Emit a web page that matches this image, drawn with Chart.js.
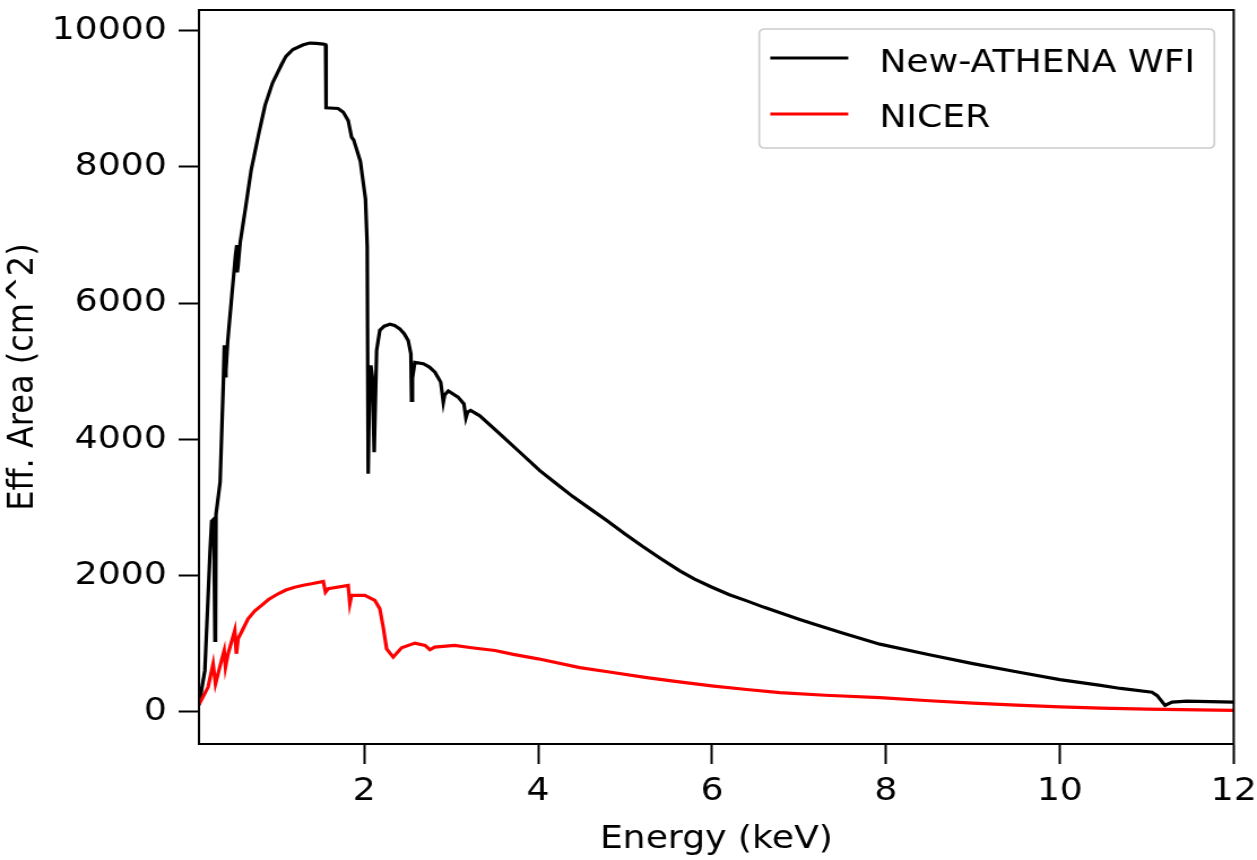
<!DOCTYPE html>
<html><head><meta charset="utf-8">
<script src="https://cdn.jsdelivr.net/npm/chart.js@4"></script>
<style>
html,body{margin:0;padding:0;background:#fff;overflow:hidden}
#wrap{width:1112px;height:860px;transform:scaleX(1.1304);transform-origin:0 0;}
canvas{display:block}
</style></head><body>
<div id="wrap"><canvas id="c" width="1112" height="860"></canvas></div>
<script>
const seriesLabels = ['New-ATHENA WFI', 'NICER'];
const seriesColors = ['#000000', '#ff0000'];

const wfiEnergy = [0.10,0.168,0.227,0.246,0.270,0.280,0.284,0.290,0.296,0.343,0.382,0.392,0.400,0.410,0.430,0.480,0.520,0.535,0.540,0.550,0.575,0.635,0.70,0.79,0.86,0.946,1.05,1.10,1.18,1.30,1.375,1.45,1.53,1.556,1.562,1.70,1.76,1.816,1.855,1.88,1.956,2.015,2.035,2.046,2.062,2.077,2.095,2.115,2.143,2.18,2.23,2.296,2.35,2.41,2.46,2.506,2.537,2.545,2.555,2.583,2.68,2.75,2.814,2.88,2.91,2.925,2.967,3.08,3.147,3.17,3.19,3.224,3.33,3.56,3.8,4.02,4.2,4.4,4.6,4.79,5.0,5.2,5.4,5.63,5.8,6.0,6.2,6.40,6.6,7.0,7.17,7.5,7.93,8.5,9.0,9.5,10.0,10.47,10.7,11.06,11.12,11.21,11.29,11.46,12.0];
const wfiArea = [100,610,2340,2800,2830,2830,1050,1100,2900,3370,4890,5380,4930,5000,5430,6140,6700,6850,6450,6550,6900,7390,7950,8500,8900,9230,9500,9620,9720,9790,9815,9810,9800,9790,8865,8855,8800,8680,8435,8390,8080,7525,6830,3495,4800,5085,4900,3810,5305,5600,5660,5690,5670,5620,5550,5450,5255,4570,4900,5130,5110,5060,4985,4840,4545,4650,4710,4620,4520,4315,4400,4425,4345,4080,3800,3540,3360,3160,2980,2810,2610,2430,2260,2070,1950,1830,1720,1630,1535,1360,1290,1160,995,840,710,590,475,390,345,290,240,95,145,160,145];

const nicerEnergy = [0.10,0.205,0.263,0.29,0.359,0.39,0.405,0.435,0.512,0.53,0.55,0.665,0.74,0.82,0.9,1.01,1.1,1.20,1.3,1.395,1.53,1.555,1.586,1.816,1.835,1.855,2.008,2.123,2.18,2.219,2.258,2.334,2.43,2.583,2.70,2.756,2.81,3.04,3.236,3.504,3.715,4.0,4.48,4.8,5.25,5.6,6.02,6.4,6.78,7.3,7.93,8.5,9.0,9.5,10.0,10.47,11.0,12.0];
const nicerArea = [110,365,707,413,755,900,657,854,1196,854,1074,1367,1480,1563,1650,1734,1790,1831,1860,1881,1915,1758,1808,1856,1588,1710,1710,1636,1514,1244,927,804,942,1010,976,913,951,976,942,902,845,780,650,590,505,445,380,330,285,245,210,165,130,100,75,56,42,22];

const xTickValues = [2, 4, 6, 8, 10, 12];
const yTickValues = [0, 2000, 4000, 6000, 8000, 10000];
const xTitle = 'Energy (keV)';
const yTitle = 'Eff. Area (cm^2)';

const FONT = 'DejaVu Sans';

const mplPlugin = {
  id: 'mpl',
  afterDatasetsDraw(chart) {
    const {ctx, chartArea: a} = chart;
    ctx.save();
    ctx.strokeStyle = '#000';
    ctx.lineWidth = 2;
    ctx.strokeRect(a.left, a.top, a.right - a.left, a.bottom - a.top);
    ctx.restore();
  },
  afterDraw(chart) {
    const {ctx, chartArea: a} = chart;
    ctx.save();
    ctx.fillStyle = '#000';
    ctx.font = '32px "' + FONT + '"';
    ctx.textAlign = 'center';
    ctx.textBaseline = 'alphabetic';
    ctx.fillText(xTitle, (a.left + a.right) / 2, 848);
    ctx.save();
    ctx.translate(29, (a.top + a.bottom) / 2);
    ctx.rotate(-Math.PI / 2);
    ctx.fillText(yTitle, 0, 0);
    ctx.restore();
    // legend
    const bx = 671.7, by = 29, bw = 402.6, bh = 119, r = 5;
    ctx.beginPath();
    ctx.moveTo(bx + r, by);
    ctx.lineTo(bx + bw - r, by);
    ctx.quadraticCurveTo(bx + bw, by, bx + bw, by + r);
    ctx.lineTo(bx + bw, by + bh - r);
    ctx.quadraticCurveTo(bx + bw, by + bh, bx + bw - r, by + bh);
    ctx.lineTo(bx + r, by + bh);
    ctx.quadraticCurveTo(bx, by + bh, bx, by + bh - r);
    ctx.lineTo(bx, by + r);
    ctx.quadraticCurveTo(bx, by, bx + r, by);
    ctx.closePath();
    ctx.fillStyle = 'rgba(255,255,255,0.8)';
    ctx.fill();
    ctx.strokeStyle = '#cccccc';
    ctx.lineWidth = 1.6;
    ctx.stroke();
    const rows = [58, 114];
    const bases = [71.7, 126.7];
    chart.data.datasets.forEach((ds, i) => {
      ctx.beginPath();
      ctx.moveTo(681.4, rows[i]);
      ctx.lineTo(750.4, rows[i]);
      ctx.strokeStyle = ds.borderColor;
      ctx.lineWidth = 3.2;
      ctx.stroke();
      ctx.fillStyle = '#000';
      ctx.textAlign = 'left';
      ctx.fillText(ds.label, 777.9, bases[i]);
    });
    ctx.restore();
  }
};

const tickFont = {family: FONT, size: 32};
const zeroPad = s => { s.paddingTop = 0; s.paddingBottom = 0; s.paddingLeft = 0; s.paddingRight = 0; };

new Chart(document.getElementById('c'), {
  type: 'line',
  data: {
    datasets: [
      {label: seriesLabels[0], data: wfiEnergy.map((e, i) => ({x: e, y: wfiArea[i]})),
       borderColor: seriesColors[0], borderWidth: 3.2, pointRadius: 0, tension: 0, fill: false, order: 1},
      {label: seriesLabels[1], data: nicerEnergy.map((e, i) => ({x: e, y: nicerArea[i]})),
       borderColor: seriesColors[1], borderWidth: 3.2, pointRadius: 0, tension: 0, fill: false, order: 0}
    ]
  },
  options: {
    responsive: false,
    animation: false,
    devicePixelRatio: 1,
    layout: {autoPadding: false, padding: {left: 0, right: 20.6, top: 10, bottom: 0}},
    plugins: {legend: {display: false}, tooltip: {enabled: false}},
    scales: {
      x: {
        type: 'linear', min: 0.1, max: 12,
        afterBuildTicks: s => { s.ticks = xTickValues.map(v => ({value: v})); },
        afterFit: s => { s.height = 116; zeroPad(s); },
        ticks: {font: tickFont, color: '#000', padding: 8, maxRotation: 0, autoSkip: false, callback: v => String(v)},
        grid: {drawOnChartArea: false, drawTicks: true, tickLength: 20, tickWidth: 2, tickColor: '#000'},
        border: {display: true, color: '#000', width: 2}
      },
      y: {
        type: 'linear', min: -470, max: 10300,
        afterBuildTicks: s => { s.ticks = yTickValues.map(v => ({value: v})); },
        afterFit: s => { s.width = 176; zeroPad(s); },
        ticks: {font: tickFont, color: '#000', padding: 10.5, autoSkip: false, callback: v => String(v)},
        grid: {drawOnChartArea: false, drawTicks: true, tickLength: 18, tickWidth: 2, tickColor: '#000'},
        border: {display: true, color: '#000', width: 2}
      }
    }
  },
  plugins: [mplPlugin]
});
</script>
</body></html>
